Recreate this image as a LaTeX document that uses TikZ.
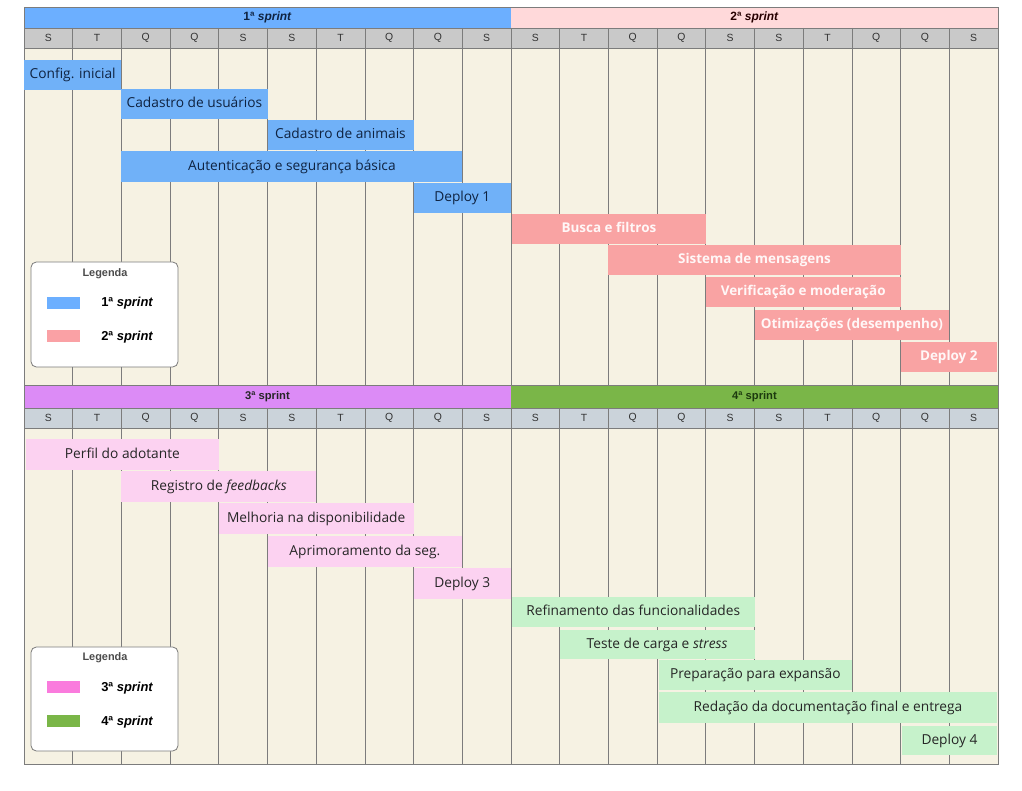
\documentclass[tikz,border=0pt]{standalone}
\usepackage{fontspec}
\setmainfont{Liberation Sans}
\newfontfamily\taskfont{Open Sans}
\usepackage{tikz}
\usepackage{xcolor}
\definecolor{SprintOne}{HTML}{6CAFFF}
\definecolor{SprintOneBar}{HTML}{70B1F8}
\definecolor{SprintOneInk}{HTML}{0F2341}
\definecolor{SprintTwo}{HTML}{FFD9DA}
\definecolor{SprintTwoBar}{HTML}{F9A3A3}
\definecolor{SprintTwoKey}{HTML}{FAA1A5}
\definecolor{SprintThree}{HTML}{DC8BF6}
\definecolor{SprintThreeBar}{HTML}{FCD2F1}
\definecolor{SprintThreeKey}{HTML}{FA7BDD}
\definecolor{SprintFour}{HTML}{7AB648}
\definecolor{SprintFourBar}{HTML}{C6F2CB}
\definecolor{SprintFourInk}{HTML}{1C3A0E}
\definecolor{DayGray}{HTML}{C9C9C9}
\definecolor{DayBlue}{HTML}{CBD3DA}
\definecolor{ChartCream}{HTML}{F6F2E3}
\definecolor{GridGray}{HTML}{7C7C7C}

\begin{document}
\begin{tikzpicture}[x=0.75pt,y=-0.75pt,
  grid/.style={GridGray,line width=0.6pt},
  day/.style={font=\fontsize{7.8}{8}\selectfont,text=black!80},
  head/.style={font=\bfseries\fontsize{9}{10}\selectfont,text height=6.5pt,text depth=1.5pt},
  headsmall/.style={font=\bfseries\fontsize{8.4}{9}\selectfont,text height=6pt,text depth=1.5pt},
  task/.style={font=\taskfont\fontsize{10.3}{12}\selectfont,inner sep=0pt,text height=7.3pt,text depth=1.7pt},
  taskbold/.style={task,font=\taskfont\bfseries\fontsize{10.1}{12}\selectfont,text=white!97!red},
  keybox/.style={draw=GridGray,fill=white,line width=0.6pt,rounded corners=4pt},
  keytitle/.style={font=\bfseries\fontsize{8.2}{9}\selectfont,text=black!70},
  keylabel/.style={font=\bfseries\fontsize{9.7}{11}\selectfont,anchor=west,inner sep=0pt}]
\useasboundingbox[fill=white] (0,0) rectangle (1022,791);

% painel de cima: sprints 1 e 2
\fill[ChartCream] (24,48) rectangle (998,385);
\fill[DayGray] (24,28) rectangle (998,48);
\fill[SprintOne] (24,7) rectangle (511,28);
\fill[SprintTwo] (511,7) rectangle (998,28);
\node[head,text=SprintOneInk] (sprintA) at (267.5,17.5) {1ª \textit{sprint}};
\node[head,text=black!85!red] (sprintB) at (754.5,17.5) {2ª \textit{sprint}};
\foreach \k in {1,...,19}
  \draw[grid] ({24+48.7*\k},28) -- ({24+48.7*\k},385);
\foreach \d [count=\k from 0] in {S,T,Q,Q,S,S,T,Q,Q,S,S,T,Q,Q,S,S,T,Q,Q,S}
  \node[day] (dayA\k) at ({48.35+48.7*\k},38) {\d};
\draw[grid] (24,28) -- (998,28) (24,48) -- (998,48);
\draw[grid] (24,7) rectangle (998,385);

% painel de baixo: sprints 3 e 4
\fill[ChartCream] (24,428) rectangle (998,764);
\fill[DayBlue] (24,408) rectangle (998,428);
\fill[SprintThree] (24,385) rectangle (511,408);
\fill[SprintFour] (511,385) rectangle (998,408);
\node[headsmall,text=black!85] (sprintC) at (267.5,396.5) {3ª sprint};
\node[headsmall,text=SprintFourInk] (sprintD) at (754.5,396.5) {4ª sprint};
\foreach \k in {1,...,19}
  \draw[grid] ({24+48.7*\k},408) -- ({24+48.7*\k},764);
\foreach \d [count=\k from 0] in {S,T,Q,Q,S,S,T,Q,Q,S,S,T,Q,Q,S,S,T,Q,Q,S}
  \node[day] (dayB\k) at ({48.35+48.7*\k},418) {\d};
\draw[grid] (24,408) -- (998,408) (24,428) -- (998,428);
\draw[grid] (24,385) rectangle (998,764);

% tarefas da 1a sprint
\fill[SprintOneBar] (24,60) rectangle (121.4,90);
\node[task,text=SprintOneInk] (config) at (72.7,75) {Config. inicial};
\fill[SprintOneBar] (121.4,89) rectangle (267.5,119);
\node[task,text=SprintOneInk] (usuarios) at (194.5,104) {Cadastro de usuários};
\fill[SprintOneBar] (267.5,120) rectangle (413.6,150);
\node[task,text=SprintOneInk] (animais) at (340.5,135) {Cadastro de animais};
\fill[SprintOneBar] (121.4,151) rectangle (462.3,182);
\node[task,text=SprintOneInk] (autentic) at (291.9,166.5) {Autenticação e segurança básica};
\fill[SprintOneBar] (413.6,183) rectangle (511,213);
\node[task,text=SprintOneInk] (deployA) at (462.3,198) {Deploy 1};

% tarefas da 2a sprint
\fill[SprintTwoBar] (512,214) rectangle (705.8,244);
\node[taskbold] (busca) at (608.9,229) {Busca e filtros};
\fill[SprintTwoBar] (608.4,245) rectangle (900.6,275);
\node[taskbold] (mensagens) at (754.5,260) {Sistema de mensagens};
\fill[SprintTwoBar] (705.8,277) rectangle (900.6,307);
\node[taskbold] (verific) at (803.2,292) {Verificação e moderação};
\fill[SprintTwoBar] (754.5,310) rectangle (949.3,340);
\node[taskbold] (otimiz) at (851.9,325) {Otimizações (desempenho)};
\fill[SprintTwoBar] (900.6,342) rectangle (997,372);
\node[taskbold] (deployB) at (948.8,357) {Deploy 2};

% tarefas da 3a sprint
\fill[SprintThreeBar] (26,439) rectangle (218.8,470);
\node[task,text=black!85] (perfil) at (122.4,454.5) {Perfil do adotante};
\fill[SprintThreeBar] (121.4,471) rectangle (316.2,502);
\node[task,text=black!85] (feedback) at (218.8,486.5) {Registro de \textit{feedbacks}};
\fill[SprintThreeBar] (218.8,503) rectangle (413.6,534);
\node[task,text=black!85] (disponib) at (316.2,518.5) {Melhoria na disponibilidade};
\fill[SprintThreeBar] (267.5,536) rectangle (462.3,567);
\node[task,text=black!85] (aprimor) at (364.9,551.5) {Aprimoramento da seg.};
\fill[SprintThreeBar] (413.6,568) rectangle (511,599);
\node[task,text=black!85] (deployC) at (462.3,583.5) {Deploy 3};

% tarefas da 4a sprint
\fill[SprintFourBar] (512,597) rectangle (754.5,627);
\node[task,text=black!85] (refino) at (633.2,612) {Refinamento das funcionalidades};
\fill[SprintFourBar] (559.7,630) rectangle (754.5,659);
\node[task,text=black!85] (carga) at (657.1,644.5) {Teste de carga e \textit{stress}};
\fill[SprintFourBar] (659,660) rectangle (851.9,690);
\node[task,text=black!85] (expansao) at (755.4,675) {Preparação para expansão};
\fill[SprintFourBar] (659,692) rectangle (997,723);
\node[task,text=black!85] (redacao) at (828,707.5) {Redação da documentação final e entrega};
\fill[SprintFourBar] (902,726) rectangle (997,755);
\node[task,text=black!85] (deployD) at (949.5,740.5) {Deploy 4};

% legendas
\draw[keybox] (31,262) rectangle (178,367);
\node[keytitle] (legendaA) at (105,274) {Legenda};
\fill[SprintOne] (47,297) rectangle (80,309);
\node[keylabel] (keyA) at (101,303) {1ª \textit{sprint}};
\fill[SprintTwoKey] (47,330) rectangle (80,342);
\node[keylabel] (keyB) at (101,337) {2ª \textit{sprint}};

\draw[keybox] (31,647) rectangle (178,751);
\node[keytitle] (legendaB) at (105,658) {Legenda};
\fill[SprintThreeKey] (47,681) rectangle (80,693);
\node[keylabel] (keyC) at (101,688) {3ª \textit{sprint}};
\fill[SprintFour] (47,715) rectangle (80,727);
\node[keylabel] (keyD) at (101,722) {4ª \textit{sprint}};
\end{tikzpicture}
\end{document}
